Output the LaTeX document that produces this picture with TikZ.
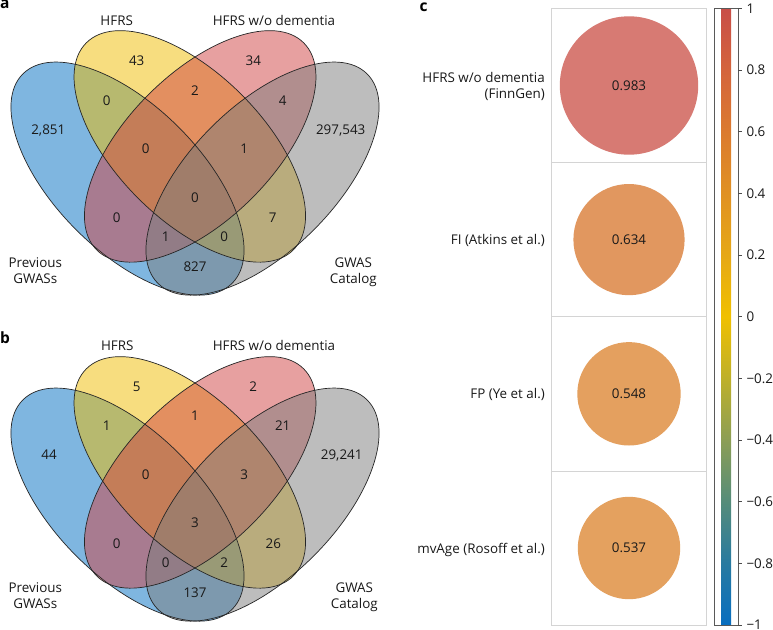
\documentclass[tikz,border=0pt]{standalone}
\usepackage{fontspec}
\setmainfont{Open Sans}
\definecolor{vblue}{RGB}{0,110,195}
\definecolor{vyellow}{RGB}{240,188,0}
\definecolor{vpink}{RGB}{209,66,66}
\definecolor{vgray}{RGB}{125,125,125}
\definecolor{txtc}{RGB}{25,25,25}
\definecolor{boxc}{RGB}{212,212,212}
\definecolor{circA}{RGB}{215,122,115}
\definecolor{circB}{RGB}{225,151,95}
\definecolor{circC}{RGB}{228,160,95}
\definecolor{circD}{RGB}{228,161,95}
\definecolor{cbM}{RGB}{8,110,192}
\definecolor{cbMb}{RGB}{40,122,160}
\definecolor{cbMc}{RGB}{85,140,122}
\definecolor{cbMd}{RGB}{140,158,85}
\definecolor{cbMe}{RGB}{190,176,42}
\definecolor{cbZ}{RGB}{240,192,0}
\definecolor{cbPa}{RGB}{230,168,22}
\definecolor{cbPb}{RGB}{224,145,35}
\definecolor{cbPc}{RGB}{219,122,47}
\definecolor{cbPd}{RGB}{212,100,60}
\definecolor{cbP}{RGB}{200,78,72}
\pgfdeclareverticalshading{cbarshade}{20bp}{color(0bp)=(cbM); color(25bp)=(cbM); color(30bp)=(cbMb); color(35bp)=(cbMc); color(40bp)=(cbMd); color(45bp)=(cbMe); color(50bp)=(cbZ); color(55bp)=(cbPa); color(60bp)=(cbPb); color(65bp)=(cbPc); color(70bp)=(cbPd); color(75bp)=(cbP); color(100bp)=(cbP)}
\newcommand{\myvennshapes}{%
  \fill[vblue, fill opacity=0.5, rotate around={-45:(127.5,178.6)}] (127.5,178.6) ellipse [x radius=148pt, y radius=72.5pt];
  \fill[vyellow, fill opacity=0.5, rotate around={-45:(189.8,146.4)}] (189.8,146.4) ellipse [x radius=146.4pt, y radius=73.2pt];
  \fill[vpink, fill opacity=0.5, rotate around={45:(200.2,146.4)}] (200.2,146.4) ellipse [x radius=146.4pt, y radius=73.2pt];
  \fill[vgray, fill opacity=0.5, rotate around={45:(262.5,178.6)}] (262.5,178.6) ellipse [x radius=148pt, y radius=72.5pt];
  \draw[vline, rotate around={-45:(127.5,178.6)}] (127.5,178.6) ellipse [x radius=148pt, y radius=72.5pt];
  \draw[vline, rotate around={-45:(189.8,146.4)}] (189.8,146.4) ellipse [x radius=146.4pt, y radius=73.2pt];
  \draw[vline, rotate around={45:(200.2,146.4)}] (200.2,146.4) ellipse [x radius=146.4pt, y radius=73.2pt];
  \draw[vline, rotate around={45:(262.5,178.6)}] (262.5,178.6) ellipse [x radius=148pt, y radius=72.5pt];
}
\begin{document}
\begin{tikzpicture}[x=1pt,y=-1pt,
  txt/.style={font=\fontsize{13.4}{16}\selectfont, text=txtc, inner sep=0pt, text height=9.6pt, text depth=0pt},
  panellab/.style={font=\fontsize{15.5}{18}\selectfont\bfseries, text=black, inner sep=0pt, anchor=base west},
  vline/.style={draw=black!85, line width=0.7pt},
  rowbox/.style={draw=boxc, line width=0.9pt},
  tickline/.style={draw=black!70, line width=0.6pt}]
\useasboundingbox (0,0) rectangle (773,629);
\fill[white] (0,0) rectangle (773,629);
% ---------- panel a ----------
\myvennshapes
\node[panellab] (la) at (0,8.5) {a};
\node[txt] (a-hfrs) at (116.7,20.7) {HFRS};
\node[txt] (a-hwd) at (274,20.7) {HFRS w/o dementia};
\node[txt] (a-n43) at (136.7,61) {43};
\node[txt] (a-n34) at (253.3,61) {34};
\node[txt] (a-by) at (106.7,100.7) {0};
\node[txt] (a-yp) at (195,90.7) {2};
\node[txt] (a-pg) at (282.7,100.7) {4};
\node[txt] (a-b) at (48.3,129.3) {2,851};
\node[txt] (a-g) at (340.7,129.3) {297,543};
\node[txt] (a-byp) at (145.7,149) {0};
\node[txt] (a-ypg) at (244.3,149) {1};
\node[txt] (a-all) at (195,197.3) {0};
\node[txt] (a-bp) at (116.7,217.3) {0};
\node[txt] (a-yg) at (272.7,217.3) {7};
\node[txt] (a-bpg) at (165.7,236.7) {1};
\node[txt] (a-byg) at (224.3,236.7) {0};
\node[txt] (a-bg) at (195,266.7) {827};
\node[txt] (a-prev1) at (35.3,262.7) {Previous};
\node[txt] (a-prev2) at (35.3,278.3) {GWASs};
\node[txt] (a-cat1) at (353.3,262.7) {GWAS};
\node[txt] (a-cat2) at (353.3,278.3) {Catalog};
% ---------- panel b ----------
\begin{scope}[shift={(0,326)}]
\myvennshapes
\end{scope}
\node[panellab] (lb) at (0,343) {b};
\node[txt] (b-hfrs) at (117.3,346) {HFRS};
\node[txt] (b-hwd) at (274,346) {HFRS w/o dementia};
\node[txt] (b-n5) at (136.7,386.7) {5};
\node[txt] (b-n2) at (253.3,386.7) {2};
\node[txt] (b-by) at (106.7,426) {1};
\node[txt] (b-yp) at (195,416) {1};
\node[txt] (b-pg) at (282.7,426) {21};
\node[txt] (b-b) at (49,455) {44};
\node[txt] (b-g) at (341.7,455) {29,241};
\node[txt] (b-byp) at (145.7,475) {0};
\node[txt] (b-ypg) at (244.3,475) {3};
\node[txt] (b-all) at (195,522.7) {3};
\node[txt] (b-bp) at (116.7,543.3) {0};
\node[txt] (b-yg) at (273.3,543.3) {26};
\node[txt] (b-bpg) at (165.7,562.3) {0};
\node[txt] (b-byg) at (224.3,562.3) {2};
\node[txt] (b-bg) at (195,592.7) {137};
\node[txt] (b-prev1) at (35.3,587.7) {Previous};
\node[txt] (b-prev2) at (35.3,603.3) {GWASs};
\node[txt] (b-cat1) at (354.3,587.7) {GWAS};
\node[txt] (b-cat2) at (354.3,603.3) {Catalog};
% ---------- panel c ----------
\node[panellab] (lc) at (419.5,11) {c};
\draw[rowbox] (551.7,8.3) rectangle (706,162.7);
\draw[rowbox] (551.7,162.7) rectangle (706,316.5);
\draw[rowbox] (551.7,316.5) rectangle (706,471);
\draw[rowbox] (551.7,471) rectangle (706,625);
\fill[circA] (629,85.5) circle [radius=69.2pt];
\fill[circB] (629,239.6) circle [radius=55.6pt];
\fill[circC] (629,393.8) circle [radius=51.7pt];
\fill[circD] (629,548) circle [radius=51.2pt];
\node[txt] (c-v1) at (629,85.5) {0.983};
\node[txt] (c-v2) at (629,239.6) {0.634};
\node[txt] (c-v3) at (629,393.8) {0.548};
\node[txt] (c-v4) at (629,548) {0.537};
\node[txt, anchor=east] (c-l1a) at (545,77.3) {HFRS w/o dementia};
\node[txt, anchor=east] (c-l1b) at (545,94) {(FinnGen)};
\node[txt, anchor=east] (c-l2) at (545,239.3) {FI (Atkins et al.)};
\node[txt, anchor=east] (c-l3) at (545,393.3) {FP (Ye et al.)};
\node[txt, anchor=east] (c-l4) at (545,548.3) {mvAge (Rosoff et al.)};
% colour bar
\shade[shading=cbarshade] (714.3,8.3) rectangle (738.3,625);
\draw[draw=black!65, line width=0.6pt] (714.3,8.3) rectangle (738.3,625);
\foreach \v/\lab [count=\i] in {1/1, 0.8/0.8, 0.6/0.6, 0.4/0.4, 0.2/0.2, 0/0, -0.2/−0.2, -0.4/−0.4, -0.6/−0.6, -0.8/−0.8, -1/−1}{
  \draw[tickline] (738.3,{316.7-308.3*\v}) -- (742,{316.7-308.3*\v});
  \node[txt, anchor=west] (tick\i) at (746.3,{316.7-308.3*\v}) {\lab};
}
\end{tikzpicture}
\end{document}
